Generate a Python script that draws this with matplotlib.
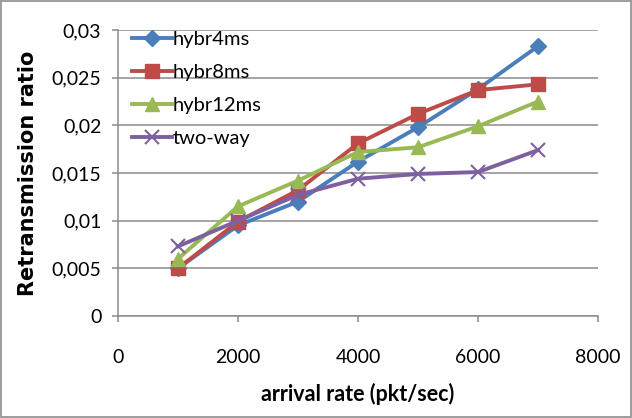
import matplotlib
matplotlib.use('Agg')
import matplotlib.pyplot as plt
from matplotlib.patches import Rectangle

plt.rcParams['font.family'] = ['Lato', 'DejaVu Sans']

# data
rate = [1000, 2000, 3000, 4000, 5000, 6000, 7000]
hybr4ms = [0.0050, 0.0095, 0.0120, 0.0162, 0.0198, 0.0238, 0.0283]
hybr8ms = [0.0050, 0.0099, 0.0132, 0.0181, 0.0212, 0.0237, 0.0243]
hybr12ms = [0.0060, 0.0115, 0.0142, 0.0172, 0.0177, 0.0199, 0.0225]
two_way = [0.0073, 0.0100, 0.0127, 0.0144, 0.0149, 0.0151, 0.0174]
yticks = [0, 0.005, 0.01, 0.015, 0.02, 0.025, 0.03]
ytick_labels = ['0', '0,005', '0,01', '0,015', '0,02', '0,025', '0,03']
xticks = [0, 2000, 4000, 6000, 8000]

fig = plt.figure(figsize=(6.32, 4.18), dpi=100)
ax = fig.add_axes([118/632, 1-316/418, 480/632, 286/418])

lw = 2.8
ax.plot(rate, hybr4ms, color='#4A7EBB', lw=lw, marker='D', ms=8.5, label='hybr4ms', zorder=3)
ax.plot(rate, hybr8ms, color='#BE4B48', lw=lw, marker='s', ms=10, label='hybr8ms', zorder=4)
ax.plot(rate, hybr12ms, color='#98B954', lw=lw, marker='^', ms=10.5, label='hybr12ms', zorder=5)
ax.plot(rate, two_way, color='#7D60A0', lw=lw, marker='x', ms=10, mew=1.5, label='two-way', zorder=6)

ax.set_xlim(0, 8000)
ax.set_ylim(0, 0.03)
ax.set_xticks(xticks)
ax.set_xticklabels([str(v) for v in xticks])
ax.set_yticks(yticks)
ax.set_yticklabels(ytick_labels)
ax.yaxis.grid(True, color='#8C8C8C', lw=1.1)
ax.set_axisbelow(True)
for s in ['top', 'right']:
    ax.spines[s].set_visible(False)
for s in ['left', 'bottom']:
    ax.spines[s].set_color('#8C8C8C')
    ax.spines[s].set_linewidth(1.1)
ax.tick_params(axis='both', colors='#8C8C8C', labelcolor='black', labelsize=14, length=4, width=1.1)
ax.tick_params(axis='x', pad=20)
ax.tick_params(axis='y', pad=8)

ax.set_xlabel('arrival rate (pkt/sec)', fontsize=15.5, fontweight='bold', labelpad=12)
ax.set_ylabel('Retransmission ratio', fontsize=15, fontweight='bold', labelpad=10,
              family='DejaVu Sans')

leg = ax.legend(loc='upper left', bbox_to_anchor=(0.0, 1.045), frameon=False, fontsize=14.5,
                handlelength=2.0, labelspacing=0.78, handletextpad=0.0, borderaxespad=0.3)

fig.patches.append(Rectangle((0.002, 0.003), 0.996, 0.994, transform=fig.transFigure,
                             fill=False, edgecolor='#8C8C8C', lw=1.2))

fig.savefig('out.png', dpi=100)
